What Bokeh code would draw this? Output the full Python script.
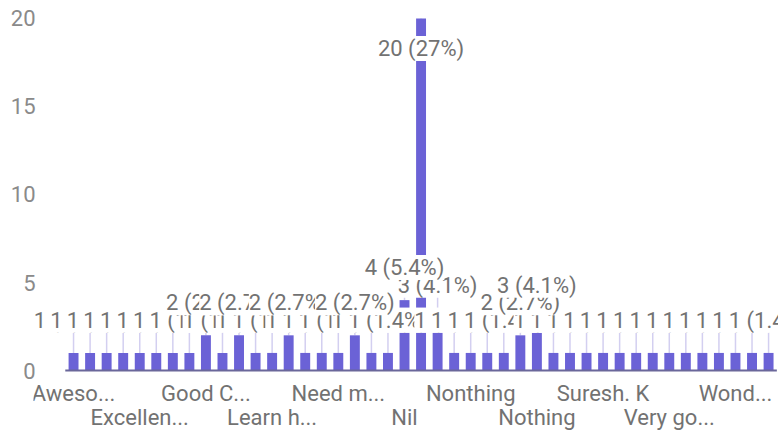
from bokeh.plotting import figure
from bokeh.models import Range1d, FixedTicker, ColumnDataSource, LabelSet
from bokeh.core.properties import value
from bokeh.embed import file_html
from bokeh.resources import INLINE

# ---- data ----
categories = [
    "Awesome", "Best session", "Clear explanation", "Everything was good",
    "Excellent", "Excellent session", "Fine", "Good",
    "Good Content", "Good explanation", "Good session", "Great",
    "Learn how to", "Liked it", "More examples", "Must improve",
    "Need more time", "Need more practice", "Nice", "Nice session",
    "Nil", "No", "No comments", "No suggestion",
    "Nonthing", "Nope", "Not applicable", "Not really",
    "Nothing", "Nothing much", "Ok", "Satisfied",
    "Suresh. K", "Thank you", "Thanks", "Useful",
    "Very good", "Very nice", "Very useful", "Well done",
    "Wonderful", "Wonderful session", "Yes",
]
values = [
    1, 1, 1, 1, 1, 1, 1, 1,
    2, 1, 2, 1, 1, 2, 1, 1,
    1, 2, 1, 1, 4, 20, 3, 1,
    1, 1, 1, 2, 3, 1, 1, 1,
    1, 1, 1, 1, 1, 1, 1, 1,
    1, 1, 1,
]
tick_labels = ["Aweso...", "Excellen...", "Good C...", "Learn h...", "Need m...",
               "Nil", "Nonthing", "Nothing", "Suresh. K", "Very go...", "Wond..."]
y_ticks = [0, 5, 10, 15, 20]

# ---- derived ----
n = len(categories)
xs = list(range(n))
total = sum(values)
vmax = max(values)
recs = []
for i, v in enumerate(values):
    pct = 100.0 * v / total
    ly = v - 1.7 if v + 1.85 > vmax else v + 1.85
    recs.append((ly, i, v, f"{v} ({pct:.2g}%)"))

bar_src = ColumnDataSource(dict(x=xs, top=values,
                                ly=[r[0] for r in recs]))
# draw lower labels first so higher ones sit on top
recs_sorted = sorted(recs, key=lambda r: (r[0], r[1]))
lab_src = ColumnDataSource(dict(x=[r[1] for r in recs_sorted],
                                ly=[r[0] for r in recs_sorted],
                                label=[r[3] for r in recs_sorted]))

tick_pos = list(range(0, n, 4))
ROW1_Y, ROW2_Y = -1.31, -2.67
cat_src = ColumnDataSource(dict(
    x=tick_pos,
    y=[ROW1_Y if k % 2 == 0 else ROW2_Y for k in range(len(tick_pos))],
    label=tick_labels))

p = figure(width=778, height=432, output_backend="svg", toolbar_location=None,
           x_range=Range1d(-2.42, 42.6), y_range=Range1d(-3.52, 21.02),
           min_border_left=33, min_border_right=0, min_border_top=0,
           min_border_bottom=0)
p.outline_line_color = None
p.xgrid.grid_line_color = None
p.ygrid.grid_line_color = None
p.background_fill_color = "white"
p.xaxis.visible = False

TXT = "#727272"

p.segment(x0="x", y0="top", x1="x", y1="ly", source=bar_src,
          line_color="#d3cff0", line_width=1.5)
p.vbar(x="x", top="top", bottom=0, width=0.6, source=bar_src,
       fill_color="#6b62d6", line_color=None)
# baseline under the bars
p.line(x=[xs[0] - 0.5, xs[-1] + 0.5], y=[0, 0], line_color="#6a679a", line_width=2)

ls = LabelSet(x="x", y="ly", text="label", source=lab_src,
              text_align="center", text_baseline="middle",
              text_font=value("Roboto"), text_font_size="22px", text_color=TXT,
              text_line_height=0.8,
              background_fill_color="white", background_fill_alpha=1.0)
p.add_layout(ls)

cats = LabelSet(x="x", y="y", text="label", source=cat_src,
                text_align="center", text_baseline="middle",
                text_font=value("Roboto"), text_font_size="22px", text_color=TXT)
p.add_layout(cats)

# y axis
ya = p.yaxis[0]
ya.ticker = FixedTicker(ticks=y_ticks)
ya.axis_line_color = None
ya.major_tick_line_color = None
ya.minor_tick_line_color = None
ya.major_tick_out = 0
ya.major_tick_in = 0
ya.major_label_standoff = -2
ya.major_label_text_font = "Roboto"
ya.major_label_text_font_size = "22px"
ya.major_label_text_color = "#8a8a8a"

open("out.html", "w").write(file_html(p, INLINE))
